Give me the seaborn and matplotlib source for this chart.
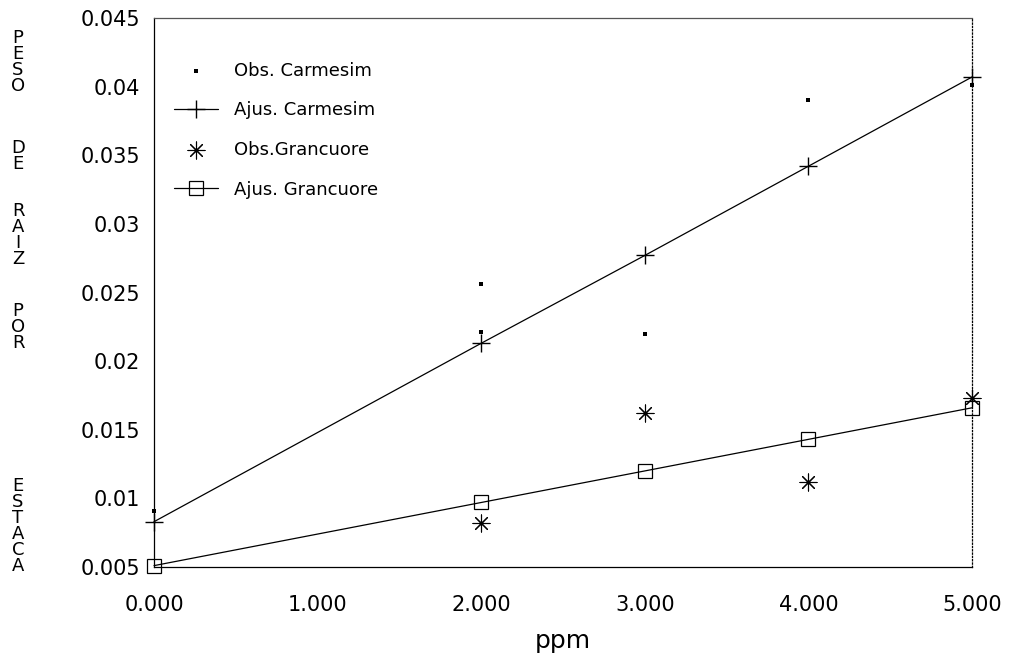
import matplotlib
matplotlib.use("Agg")
import matplotlib.pyplot as plt
import seaborn as sns
import pandas as pd
from matplotlib.ticker import FixedLocator, FuncFormatter

# Observed and fitted root weight per cutting vs. hormone dose (ppm)
ppm_obs_carmesim = [0, 2, 2, 3, 4, 5]
obs_carmesim = [0.0091, 0.0256, 0.0221, 0.0220, 0.0390, 0.0401]

ppm_fit = [0, 2, 3, 4, 5]
fit_carmesim = [0.0083, 0.0213, 0.0277, 0.0342, 0.0407]

ppm_obs_grancuore = [2, 3, 4, 5]
obs_grancuore = [0.0082, 0.0162, 0.0112, 0.0173]

fit_grancuore = [0.0051, 0.0097, 0.0120, 0.0143, 0.0166]

x_ticks = [0, 1, 2, 3, 4, 5]
y_ticks = [0.005, 0.01, 0.015, 0.02, 0.025, 0.03, 0.035, 0.04, 0.045]

ylabel_words = ["PESO", "DE", "RAIZ", "POR", "ESTACA"]
ylabel_word_top = [37, 147, 210, 310, 485]  # pixel rows of each word's first letter

sns.set_style("white")
plt.rcParams["font.family"] = ["DejaVu Sans"]

W, H = 1013, 661
fig = plt.figure(figsize=(W / 100, H / 100), dpi=100)
ax = fig.add_axes([154 / W, 1 - 567 / H, (972 - 154) / W, (567 - 18) / H])

df_oc = pd.DataFrame({"ppm": ppm_obs_carmesim, "peso": obs_carmesim})
df_fc = pd.DataFrame({"ppm": ppm_fit, "peso": fit_carmesim})
df_og = pd.DataFrame({"ppm": ppm_obs_grancuore, "peso": obs_grancuore})
df_fg = pd.DataFrame({"ppm": ppm_fit, "peso": fit_grancuore})

sns.scatterplot(data=df_oc, x="ppm", y="peso", ax=ax, marker="s", s=10,
                color="black", linewidth=0, label="Obs. Carmesim", clip_on=False, zorder=4)
sns.lineplot(data=df_fc, x="ppm", y="peso", ax=ax, color="black", linewidth=0.9,
             marker="+", markersize=13, markeredgewidth=1.0, markeredgecolor="black",
             label="Ajus. Carmesim", clip_on=False, zorder=3)
sns.scatterplot(data=df_og, x="ppm", y="peso", ax=ax, marker=(8, 2, 0), s=150,
                color="black", linewidth=0.8, label="Obs.Grancuore", clip_on=False, zorder=4)
sns.lineplot(data=df_fg, x="ppm", y="peso", ax=ax, color="black", linewidth=0.9,
             marker="s", markersize=10, markerfacecolor="none", markeredgecolor="black",
             markeredgewidth=0.9, label="Ajus. Grancuore", clip_on=False, zorder=3)

ax.set_xlim(0, 5)
ax.set_ylim(0.005, 0.045)
ax.xaxis.set_major_locator(FixedLocator(x_ticks))
ax.yaxis.set_major_locator(FixedLocator(y_ticks))
ax.xaxis.set_major_formatter(FuncFormatter(lambda v, p: f"{v:.3f}"))
ax.yaxis.set_major_formatter(FuncFormatter(lambda v, p: f"{v:g}"))
ax.tick_params(axis="both", direction="in", length=7, width=0.8, colors="black",
               labelsize=15)
ax.tick_params(axis="x", pad=20)
ax.tick_params(axis="y", pad=10)

for side in ["left", "right", "top", "bottom"]:
    ax.spines[side].set_visible(True)
    ax.spines[side].set_color("black")
    ax.spines[side].set_linewidth(0.9)
ax.spines["right"].set_linestyle(":")
ax.spines["left"].set_linestyle((0, (2, 1)))
ax.spines["top"].set_color("#555555")

ax.set_xlabel("ppm", fontsize=18, labelpad=10, color="black")
ax.set_ylabel("")

# Vertical stacked-letter y title, one text block per word
for word, top in zip(ylabel_words, ylabel_word_top):
    fig.text(18 / W, 1 - (top - 8) / H, "\n".join(word), fontsize=13, ha="center",
             va="top", ma="center", linespacing=0.86, color="black")

leg = ax.legend(loc="upper left", bbox_to_anchor=(0.005, 0.95), frameon=False,
                fontsize=13, labelspacing=1.2, handlelength=2.4, handletextpad=0.9,
                markerscale=1.0)
for t in leg.get_texts():
    t.set_color("black")

fig.savefig("out.png", dpi=100, facecolor="white")
